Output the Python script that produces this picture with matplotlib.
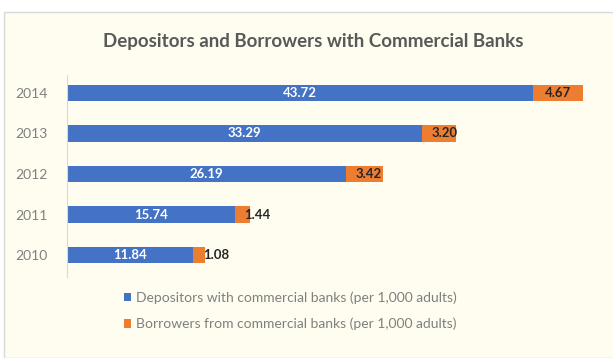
import matplotlib.pyplot as plt
from matplotlib.patches import Rectangle

years = ["2010", "2011", "2012", "2013", "2014"]
depositors = [11.84, 15.74, 26.19, 33.29, 43.72]
borrowers = [1.08, 1.44, 3.42, 3.20, 4.67]

blue = "#4472C4"
orange = "#ED7D31"
bg = "#FFFDF0"

plt.rcParams['font.family'] = ['Lato', 'DejaVu Sans']

fig = plt.figure(figsize=(6.13, 3.58), dpi=100)
fig.patch.set_facecolor("white")
# cream chart panel with a thin border, drawn beneath the axes
fig.patches.append(Rectangle((4 / 613, 0), 1, 1 - 12 / 358, transform=fig.transFigure,
                             facecolor=bg, edgecolor="#D9D9D9", linewidth=1, zorder=-10))

ax = fig.add_axes([67 / 613, 81 / 358, 533 / 613, 202 / 358])
ax.set_facecolor("none")

ypos = range(len(years))
ax.barh(ypos, depositors, height=0.4, color=blue, label="Depositors with commercial banks (per 1,000 adults)")
ax.barh(ypos, borrowers, left=depositors, height=0.4, color=orange,
        label="Borrowers from commercial banks (per 1,000 adults)")

for y, d, b in zip(ypos, depositors, borrowers):
    ax.text(d / 2, y, f"{d:.2f}", ha="center", va="center", color="white",
            fontsize=9.5, fontweight="bold")
    if b > 4:
        ax.text(d + b / 2, y, f"{b:.2f}", ha="center", va="center", color="#262626",
                fontsize=9.5, fontweight="bold")
    else:
        ax.text(d + 0.9, y, f"{b:.2f}", ha="left", va="center", color="#262626",
                fontsize=9.5, fontweight="bold")

ax.set_xlim(0, 50)
ax.set_ylim(-0.54, 4.44)
ax.set_yticks(list(ypos))
ax.set_yticklabels(years)
ax.set_xticks([])
ax.tick_params(axis="y", length=0, pad=14, labelsize=10, labelcolor="#808080")
for side in ["top", "right", "bottom"]:
    ax.spines[side].set_visible(False)
ax.spines["left"].set_color("#D9D9D9")

fig.text(313 / 613, 1 - 41 / 358, "Depositors and Borrowers with Commercial Banks",
         ha="center", va="center", fontsize=13.5, fontweight="bold", color="#595959")

handles, labels = ax.get_legend_handles_labels()
fig.legend(handles, labels, loc="center", bbox_to_anchor=(290 / 613, 1 - 311 / 358),
           ncol=1, frameon=False, fontsize=10, labelcolor="#7F7F7F",
           handlelength=0.55, handleheight=0.55, handletextpad=0.3, labelspacing=1.0)

fig.savefig("out.png", dpi=100, facecolor=fig.get_facecolor())
